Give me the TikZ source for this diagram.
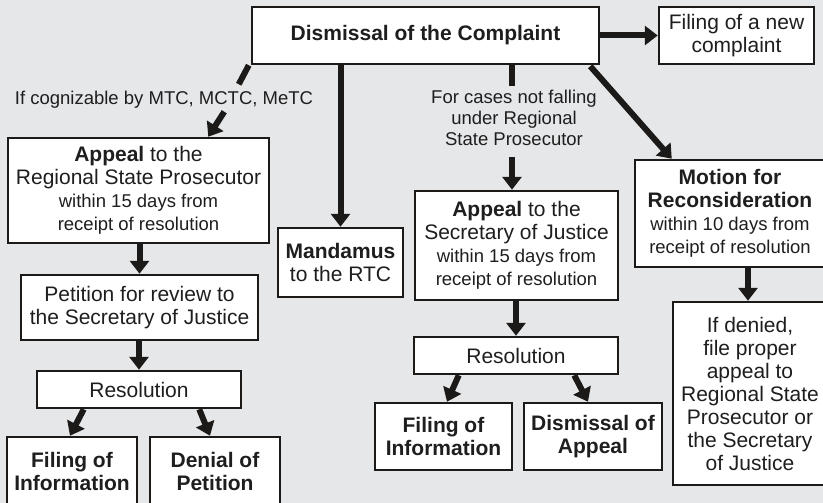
\documentclass[tikz,border=0pt]{standalone}
\usepackage{fontspec}
\setmainfont{Liberation Sans}
\usetikzlibrary{arrows.meta,calc}
\definecolor{bg}{HTML}{E6E7E9}
\definecolor{linec}{HTML}{1C1A18}
\definecolor{textc}{HTML}{1E1E1E}
\newcommand\bigf{\fontsize{21}{23}\selectfont}
\newcommand\smallf{\fontsize{18.5}{21}\selectfont}
\tikzset{
  box/.style={draw=linec, line width=2.5pt, fill=white, inner sep=0pt, align=center, text=textc, font=\bigf},
  lbl/.style={inner sep=0pt, align=center, text=textc, font=\smallf},
  arr/.style={draw=linec, line width=6pt, -{Triangle[length=13pt,width=19pt]}},
  seg/.style={draw=linec, line width=6pt},
}
\begin{document}
\begin{tikzpicture}[x=1pt,y=-1pt]
\path[use as bounding box] (0,0) rectangle (823,503);
\fill[bg] (0,0) rectangle (823,503);
\clip (0,0) rectangle (823,503);

% boxes
\node[box, minimum width=347, minimum height=57] (top) at (425.5,35.5) {\textbf{Dismissal of the Complaint}};
\node[box, minimum width=155, minimum height=57] (newc) at (736.5,35.5) {Filing of a new\\complaint};
\node[box, minimum width=261, minimum height=105] (rsp) at (138.5,190.5) {\textbf{Appeal} to the\\Regional State Prosecutor\\{\smallf within 15 days from}\\{\smallf receipt of resolution}};
\node[box, minimum width=125, minimum height=69] (mand) at (340.5,262.5) {\textbf{Mandamus}\\to the RTC};
\node[box, minimum width=203, minimum height=109] (soj) at (516.5,245.5) {\textbf{Appeal} to the\\Secretary of Justice\\{\smallf within 15 days from}\\{\smallf receipt of resolution}};
\node[box, minimum width=190, minimum height=107] (mot) at (730,213.5) {\textbf{Motion for}\\\textbf{Reconsideration}\\{\smallf within 10 days from}\\{\smallf receipt of resolution}};
\node[box, minimum width=154, minimum height=183] (deny) at (750,393.5) {If denied,\\file proper\\appeal to\\Regional State\\Prosecutor or\\the Secretary\\of Justice};
\node[box, minimum width=237, minimum height=65] (pet) at (139.5,307.5) {Petition for review to\\the Secretary of Justice};
\node[box, minimum width=204, minimum height=37] (resa) at (139,389.5) {Resolution};
\node[box, minimum width=130, minimum height=68] (fila) at (72,471) {\textbf{Filing of}\\\textbf{Information}};
\node[box, minimum width=130, minimum height=68] (denp) at (215,471) {\textbf{Denial of}\\\textbf{Petition}};
\node[box, minimum width=204, minimum height=37] (resb) at (516,355.5) {Resolution};
\node[box, minimum width=137, minimum height=67] (filb) at (443.5,436.5) {\textbf{Filing of}\\\textbf{Information}};
\node[box, minimum width=138, minimum height=67] (disa) at (593,436.5) {\textbf{Dismissal of}\\\textbf{Appeal}};

% labels
\node[lbl] (l1) at (164,100) {If cognizable by MTC, MCTC, MeTC};
\node[lbl] (l2) at (514,118) {For cases not falling\\under Regional\\State Prosecutor};

% connectors
\draw[arr] (top.east) -- (newc.west);
\draw[arr] (mand.north |- top.south) -- (mand.north);
\draw[arr] ($(top.south east)+(-10,1)$) -- ($(mot.north west)+(38,0)$);

\coordinate (d1) at ($(top.south west)+(-2,0)$);
\coordinate (d2) at ($(top.south west)+(-12,19)$);
\coordinate (d3) at ($(rsp.north east)+(-46,-25)$);
\draw[seg] (d1) -- (d2);
\draw[arr] (d3) -- ($(rsp.north east)+(-62,0)$);

\coordinate (m1) at ($(top.south)+(86,0)$);
\coordinate (m2) at ($(top.south)+(86,21)$);
\draw[seg] (m1) -- (m2);
\draw[arr] ($(soj.north)+(-4.5,-33)$) -- ($(soj.north)+(-4.5,0)$);

\draw[arr] (pet.north |- rsp.south) -- (pet.north);
\draw[arr] (resa.north |- pet.south) -- (resa.north);
\draw[arr] ($(resa.south west)+(48,0)$) -- ($(fila.north)+(-2,0)$);
\draw[arr] ($(resa.south east)+(-43,0)$) -- ($(denp.north)+(-5,0)$);

\draw[arr] (resb.north |- soj.south) -- (resb.north);
\draw[arr] ($(resb.south west)+(46,0)$) -- ($(filb.north)+(3.5,0)$);
\draw[arr] ($(resb.south east)+(-45,0)$) -- ($(disa.north)+(-5,0)$);

\draw[arr] ($(deny.north |- mot.south)+(-2,0)$) -- ($(deny.north)+(-2,0)$);
\end{tikzpicture}
\end{document}
